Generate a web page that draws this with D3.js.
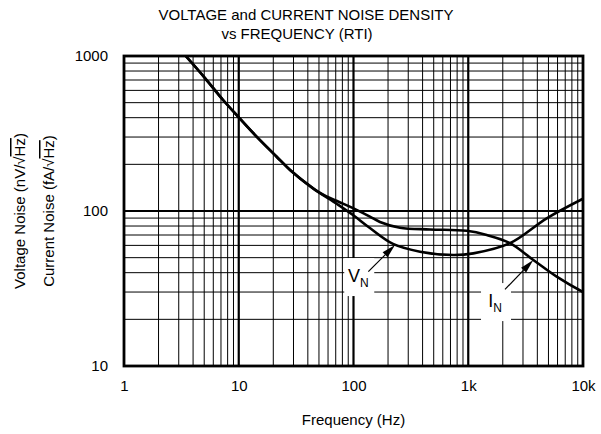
<!DOCTYPE html>
<html>
<head>
<meta charset="utf-8">
<script src="https://cdn.jsdelivr.net/npm/d3@7"></script>
<style>
  body { margin: 0; background: #fff; }
  text { font-family: "Liberation Sans", Arial, sans-serif; fill: #000; }
</style>
</head>
<body>
<svg id="chart" width="601" height="434"></svg>
<script>
// values (Hz, nV/rtHz or fA/rtHz)
const vnFreq = [3.45, 5.1, 7.3, 10, 14.3, 21.4, 28, 44.4, 71.8, 99, 139, 221, 380, 741, 1107, 2311, 4830, 10000];
const vnValue = [1000, 718, 520, 402, 302, 224, 184, 140, 111, 94.2, 77.6, 61.3, 54.6, 52, 53.3, 62, 89.7, 120];

const inFreq = [3.45, 5.1, 7.3, 10, 14.3, 21.4, 28, 51, 71.8, 100, 139, 170, 254, 464, 969, 1449, 2311, 3690, 5900, 10000];
const inValue = [1000, 718, 520, 402, 302, 224, 184, 131, 116, 104, 92, 85, 78, 76, 74.5, 70, 62, 48.3, 37.7, 30];

const xTicks = [1, 10, 100, 1000, 10000];
const xTickLabels = ["1", "10", "100", "1k", "10k"];
const yTicks = [10, 100, 1000];
const yTickLabels = ["10", "100", "1000"];

const titleLines = ["VOLTAGE and CURRENT NOISE DENSITY", "vs FREQUENCY (RTI)"];

// annotations: label pos (f, v), arrow tail (f, v), arrow tip (f, v)
const notes = [
  { name: "V", sub: "N", at: [110, 34.8], tail: [134.6, 40.6], tip: [230, 60.4] },
  { name: "I", sub: "N", at: [1711, 24], tail: [2090, 31.2], tip: [3690, 48.3] }
];

const pL = 124, pR = 583, pT = 56, pB = 366;

const svg = d3.select("#chart");

const x = d3.scaleLog().domain([1, 10000]).range([pL, pR]);
const y = d3.scaleLog().domain([10, 1000]).range([pB, pT]);

// title
svg.append("text").attr("x", 306).attr("y", 20).attr("text-anchor", "middle")
  .style("font-size", "15px").text(titleLines[0]);
svg.append("text").attr("x", 297).attr("y", 39).attr("text-anchor", "middle")
  .style("font-size", "15px").text(titleLines[1]);

// grid
const grid = svg.append("g");
const minorX = [], majorX = [];
for (let d = 1; d < 10000; d *= 10) {
  majorX.push(d);
  for (let k = 2; k <= 9; k++) minorX.push(d * k);
}
const minorY = [], majorY = [];
for (let d = 10; d < 1000; d *= 10) {
  majorY.push(d);
  for (let k = 2; k <= 9; k++) minorY.push(d * k);
}

grid.selectAll(".mx").data(minorX).enter().append("line")
  .attr("x1", d => x(d)).attr("x2", d => x(d))
  .attr("y1", pT).attr("y2", pB)
  .attr("stroke", "#000").attr("stroke-width", 1);
grid.selectAll(".my").data(minorY).enter().append("line")
  .attr("x1", pL).attr("x2", pR)
  .attr("y1", d => y(d)).attr("y2", d => y(d))
  .attr("stroke", "#000").attr("stroke-width", 1);
grid.selectAll(".Mx").data(majorX.slice(1)).enter().append("line")
  .attr("x1", d => x(d)).attr("x2", d => x(d))
  .attr("y1", pT).attr("y2", pB)
  .attr("stroke", "#000").attr("stroke-width", 2.2);
grid.selectAll(".My").data(majorY.slice(1)).enter().append("line")
  .attr("x1", pL).attr("x2", pR)
  .attr("y1", d => y(d)).attr("y2", d => y(d))
  .attr("stroke", "#000").attr("stroke-width", 2.2);

// label boxes hide the grid
const annot = svg.append("g");
notes.forEach(n => {
  const cx = x(n.at[0]), by = y(n.at[1]);
  annot.append("rect")
    .attr("x", cx - 14).attr("y", by - 24)
    .attr("width", 30).attr("height", 38)
    .attr("fill", "#fff");
});

svg.append("rect")
  .attr("x", pL).attr("y", pT)
  .attr("width", pR - pL).attr("height", pB - pT)
  .attr("fill", "none").attr("stroke", "#000").attr("stroke-width", 2.8);

// curves
const line = d3.line()
  .x(d => x(d[0]))
  .y(d => y(d[1]))
  .curve(d3.curveCatmullRom.alpha(0.5));

svg.append("clipPath").attr("id", "plotclip")
  .append("rect").attr("x", pL).attr("y", pT)
  .attr("width", pR - pL).attr("height", pB - pT);

const curves = svg.append("g").attr("clip-path", "url(#plotclip)");
[d3.zip(vnFreq, vnValue), d3.zip(inFreq, inValue)].forEach(s => {
  curves.append("path")
    .attr("d", line(s))
    .attr("fill", "none")
    .attr("stroke", "#000")
    .attr("stroke-width", 2.6);
});

// labels and arrows
notes.forEach(n => {
  const cx = x(n.at[0]), by = y(n.at[1]);
  const t = annot.append("text")
    .attr("x", cx).attr("y", by)
    .attr("text-anchor", "middle")
    .style("font-size", "18px");
  t.append("tspan").text(n.name);
  t.append("tspan").attr("dy", 5).style("font-size", "12px").text(n.sub);

  const x0 = x(n.tail[0]), y0 = y(n.tail[1]);
  const x1 = x(n.tip[0]), y1 = y(n.tip[1]);
  const ang = Math.atan2(y1 - y0, x1 - x0);
  const len = 14, half = 3.5;
  const bx = x1 - len * Math.cos(ang), byy = y1 - len * Math.sin(ang);
  annot.append("line")
    .attr("x1", x0).attr("y1", y0).attr("x2", bx).attr("y2", byy)
    .attr("stroke", "#000").attr("stroke-width", 1.2);
  annot.append("path")
    .attr("d", `M${x1},${y1}L${bx + half * Math.sin(ang)},${byy - half * Math.cos(ang)}L${bx - half * Math.sin(ang)},${byy + half * Math.cos(ang)}Z`)
    .attr("fill", "#000");
});

// axes
const xAxis = d3.axisBottom(x).tickValues(xTicks)
  .tickFormat((d, i) => xTickLabels[i]).tickSize(0).tickPadding(14);
const gx = svg.append("g").attr("transform", `translate(0,${pB})`).call(xAxis);
gx.select(".domain").remove();
gx.selectAll("text").style("font-size", "15px").style("font-family", "Liberation Sans, Arial, sans-serif");

const yAxis = d3.axisLeft(y).tickValues(yTicks)
  .tickFormat((d, i) => yTickLabels[i]).tickSize(0).tickPadding(16);
const gy = svg.append("g").attr("transform", `translate(${pL},0)`).call(yAxis);
gy.select(".domain").remove();
gy.selectAll("text").style("font-size", "15px").style("font-family", "Liberation Sans, Arial, sans-serif");

// axis titles
svg.append("text").attr("x", (pL + pR) / 2).attr("y", 425)
  .attr("text-anchor", "middle").style("font-size", "15px").text("Frequency (Hz)");

const yl = [["Voltage Noise (nV/", 25], ["Current Noise (fA/", 54]];
yl.forEach(([s, bx]) => {
  const t = svg.append("text")
    .attr("transform", `translate(${bx},${(pT + pB) / 2}) rotate(-90)`)
    .attr("text-anchor", "middle").style("font-size", "15px");
  t.append("tspan").text(s + "\u221A");
  t.append("tspan").style("text-decoration", "overline").text("Hz");
  t.append("tspan").text(")");
});
</script>
</body>
</html>
